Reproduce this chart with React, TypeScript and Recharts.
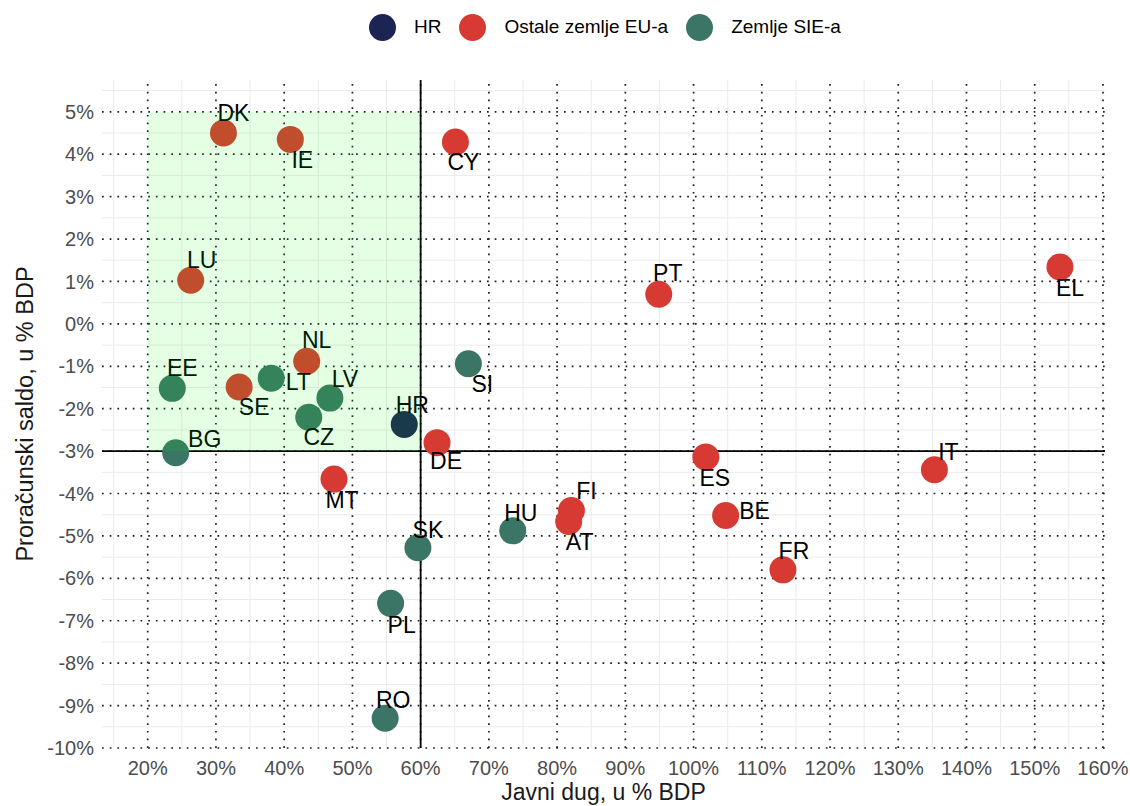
import {
  ScatterChart,
  Scatter,
  XAxis,
  YAxis,
  ReferenceLine,
  ReferenceArea,
} from "recharts";

const countries = ["HR", "DK", "IE", "CY", "LU", "PT", "EL", "NL", "SI", "EE", "SE", "LT", "LV", "CZ", "DE", "BG", "ES", "IT", "FI", "AT", "HU", "SK", "BE", "FR", "MT", "PL", "RO"];
const debt = [57.6, 31.1, 40.9, 65.1, 26.3, 94.9, 153.7, 43.3, 67.0, 23.6, 33.4, 38.1, 46.7, 43.6, 62.4, 24.1, 101.8, 135.3, 82.1, 81.7, 73.5, 59.6, 104.7, 113.1, 47.3, 55.6, 54.8];
const balance = [-2.37, 4.5, 4.35, 4.29, 1.03, 0.7, 1.34, -0.88, -0.94, -1.52, -1.49, -1.28, -1.75, -2.2, -2.8, -3.04, -3.14, -3.44, -4.4, -4.66, -4.88, -5.28, -4.52, -5.8, -3.66, -6.59, -9.3];
const groupOf = ["HR", "EU", "EU", "EU", "EU", "EU", "EU", "EU", "SIE", "SIE", "EU", "SIE", "SIE", "SIE", "EU", "SIE", "EU", "EU", "EU", "EU", "SIE", "SIE", "EU", "EU", "EU", "SIE", "SIE"];

const groups = [
  { key: "HR", name: "HR", color: "#1b2452" },
  { key: "EU", name: "Ostale zemlje EU-a", color: "#d63a32" },
  { key: "SIE", name: "Zemlje SIE-a", color: "#3a7566" },
];

const xTicks = [20, 30, 40, 50, 60, 70, 80, 90, 100, 110, 120, 130, 140, 150, 160];
const yTicks = [-10, -9, -8, -7, -6, -5, -4, -3, -2, -1, 0, 1, 2, 3, 4, 5];
const xMinor = [15, 25, 35, 45, 55, 65, 75, 85, 95, 105, 115, 125, 135, 145, 155];
const yMinor = [-9.5, -8.5, -7.5, -6.5, -5.5, -4.5, -3.5, -2.5, -1.5, -0.5, 0.5, 1.5, 2.5, 3.5, 4.5, 5.5];

// label nudges (px), mimic the repel placement
const nudge: Record<string, [number, number]> = {
  HR: [8, -19], DK: [10, -20], IE: [12, 21], CY: [8, 20], LU: [11, -20],
  PT: [9, -21], EL: [10, 21], NL: [10, -21], SI: [14, 20], EE: [10, -20],
  SE: [15, 20], LT: [27, 4], LV: [15, -19], CZ: [10, 20], DE: [9, 18],
  BG: [29, -14], ES: [9, 21], IT: [14, -18], FI: [15, -19], AT: [11, 20],
  HU: [8, -18], SK: [10, -18], BE: [29, -5], FR: [11, -19], MT: [8, 21],
  PL: [11, 22], RO: [8, -18],
};

const FONT = "'Liberation Sans', Arial, Helvetica, sans-serif";

const seriesData = groups.map((g) =>
  countries
    .map((c, i) => ({ name: c, x: debt[i], y: balance[i], g: groupOf[i] }))
    .filter((d) => d.g === g.key)
);

const pct = (v: number) => `${v}%`;
const dotted = { stroke: "#1a1e30", strokeWidth: 1.7, strokeDasharray: "1.7 6" };

function Dot(props: any) {
  const { cx, cy, fill, payload } = props;
  const [dx, dy] = nudge[payload.name] || [10, -20];
  return (
    <g>
      <circle cx={cx} cy={cy} r={13.5} fill={fill} />
      <text
        x={cx + dx}
        y={cy + dy}
        textAnchor="middle"
        dominantBaseline="central"
        fontSize={23}
        fontFamily={FONT}
        fill="#000"
      >
        {payload.name}
      </text>
    </g>
  );
}

export default function App() {
  return (
    <div style={{ position: "relative", width: 1130, height: 806, fontFamily: FONT }}>
      <style>{`body{margin:0}`}</style>
      <div style={{ position: "absolute", top: 13, left: 369, display: "flex", alignItems: "center", height: 28 }}>
        {groups.map((g, i) => (
          <div key={g.key} style={{ display: "flex", alignItems: "center", marginLeft: i === 0 ? 0 : 18 }}>
            <span
              style={{
                display: "inline-block",
                width: 27,
                height: 27,
                borderRadius: "50%",
                background: g.color,
                marginRight: 18,
              }}
            />
            <span style={{ fontSize: 19, color: "#000" }}>{g.name}</span>
          </div>
        ))}
      </div>
      <ScatterChart width={1130} height={806} margin={{ top: 80, right: 25, bottom: 0, left: 0 }}>
        {xMinor.map((v) => (
          <ReferenceLine key={"xm" + v} x={v} stroke="#ebebeb" strokeWidth={1} />
        ))}
        {yMinor.map((v) => (
          <ReferenceLine key={"ym" + v} y={v} stroke="#ebebeb" strokeWidth={1} />
        ))}
        {xTicks.map((v) => (
          <ReferenceLine key={"xg" + v} x={v} {...dotted} />
        ))}
        {yTicks.map((v) => (
          <ReferenceLine key={"yg" + v} y={v} {...dotted} />
        ))}
        <XAxis
          dataKey="x"
          type="number"
          domain={[13.3, 160.3]}
          ticks={xTicks}
          tickFormatter={pct}
          axisLine={false}
          tickLine={false}
          tickMargin={7}
          height={58}
          tick={{ fill: "#4d4d4d", fontSize: 20, fontFamily: FONT }}
          label={{ value: "Javni dug, u % BDP", position: "insideBottom", offset: 6, fontSize: 23, fill: "#1a1a1a", fontFamily: FONT }}
        />
        <YAxis
          dataKey="y"
          type="number"
          domain={[-10, 5.75]}
          ticks={yTicks}
          tickFormatter={pct}
          axisLine={false}
          tickLine={false}
          width={102}
          tick={{ fill: "#4d4d4d", fontSize: 20, fontFamily: FONT }}
          label={{ value: "Proračunski saldo, u % BDP", angle: -90, position: "insideLeft", offset: 25, fontSize: 23.5, fill: "#1a1a1a", fontFamily: FONT, style: { textAnchor: "middle" } }}
        />
        <ReferenceLine x={60} stroke="#000" strokeWidth={1.8} />
        <ReferenceLine y={-3} stroke="#000" strokeWidth={1.8} />
        {groups.map((g, i) => (
          <Scatter
            key={g.key}
            name={g.name}
            data={seriesData[i]}
            fill={g.color}
            shape={Dot}
            isAnimationActive={false}
          />
        ))}
        <ReferenceArea x1={20} x2={60} y1={-3} y2={5} fill="#00ff00" fillOpacity={0.1} stroke="none" zIndex={1500} />
      </ScatterChart>
    </div>
  );
}
